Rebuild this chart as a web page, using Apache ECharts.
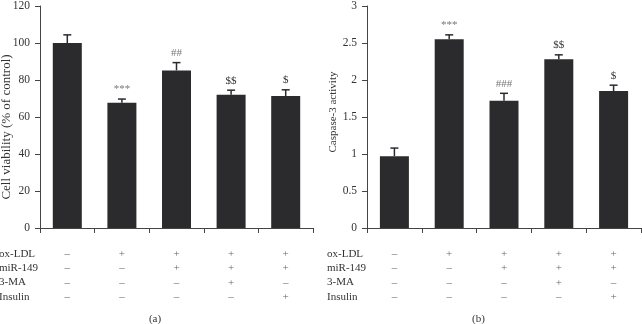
<!DOCTYPE html>
<html>
<head>
<meta charset="utf-8">
<script src="https://cdn.jsdelivr.net/npm/echarts@6/dist/echarts.min.js"></script>
<style>html,body{margin:0;padding:0;background:#fff}#c{width:642px;height:324px}</style>
</head>
<body>
<div id="c"></div>
<script>
// ---- data ----
const rowNames = ['ox-LDL', 'miR-149', '3-MA', 'Insulin'];
const oxLDL   = ['–', '+', '+', '+', '+'];
const miR149  = ['–', '–', '+', '+', '+'];
const threeMA = ['–', '–', '–', '+', '–'];
const insulin = ['–', '–', '–', '–', '+'];
const groups = ['G1', 'G2', 'G3', 'G4', 'G5'];

const viability     = [100, 67.7, 85.2, 72.0, 71.3];
const viabilityErr  = [4.4, 2.0, 4.2, 2.5, 3.4];
const viabilityMark = ['', '***', '##', '$$', '$'];
const viabilityTicks = [0, 120, 20];

const caspase     = [0.97, 2.55, 1.72, 2.28, 1.85];
const caspaseErr  = [0.11, 0.06, 0.10, 0.06, 0.08];
const caspaseMark = ['', '***', '###', '$$', '$'];
const caspaseTicks = [0, 3, 0.5];

const yTitles = ['Cell viability (% of control)', 'Caspase-3 activity'];
const panelTags = ['(a)', '(b)'];

// ---- chart ----
const FONT = "'Liberation Serif', 'Times New Roman', serif";
const TXT = '#333';
const AX = '#444';
const BAR = '#2b2b2e';
const rows = [oxLDL, miR149, threeMA, insulin];

function catLabel(idx) {
  return rows.map(r => r[idx]).join('\n');
}

function xAxisCfg(gi) {
  return {
    type: 'category', gridIndex: gi, data: groups,
    axisLine: { lineStyle: { color: AX, width: 1 } },
    axisTick: { show: true, length: 5, lineStyle: { color: AX } },
    axisLabel: {
      interval: 0, margin: 19, color: '#666', fontFamily: FONT, fontSize: 11, lineHeight: 14.3,
      formatter: (v, i) => catLabel(i)
    }
  };
}
function yAxisCfg(gi, t) {
  return {
    type: 'value', gridIndex: gi, min: t[0], max: t[1], interval: t[2],
    splitLine: { show: false },
    axisLine: { show: true, lineStyle: { color: AX, width: 1 } },
    axisTick: { show: true, length: 5, lineStyle: { color: AX } },
    axisLabel: { margin: 10, color: TXT, fontFamily: FONT, fontSize: 11.5 }
  };
}
function errSeries(gi, vals, errs, marks) {
  return {
    type: 'custom', xAxisIndex: gi, yAxisIndex: gi, z: 10,
    data: vals.map((v, i) => [i, v, errs[i]]),
    renderItem: (params, api) => {
      const i = api.value(0), v = api.value(1), e = api.value(2);
      const b = api.coord([i, v]);
      const t = api.coord([i, v + e]);
      const half = 4;
      const m = marks[i];
      const light = /[*#]/.test(m);
      return {
        type: 'group',
        children: [
          { type: 'line', shape: { x1: b[0], y1: b[1], x2: t[0], y2: t[1] }, style: { stroke: BAR, lineWidth: 1.5 } },
          { type: 'line', shape: { x1: t[0] - half, y1: t[1], x2: t[0] + half, y2: t[1] }, style: { stroke: BAR, lineWidth: 1.5 } },
          { type: 'text', x: t[0], y: t[1] - 4, style: { text: m, align: 'center', verticalAlign: 'bottom', fill: light ? '#777' : '#333', font: '11px ' + FONT } }
        ]
      };
    }
  };
}

const graphic = [];
const rowX = [-1, 327];
rowX.forEach(x => {
  rowNames.forEach((n, k) => {
    graphic.push({ type: 'text', x: x, y: 254 + k * 14.3, style: { text: n, fill: TXT, font: '11px ' + FONT, verticalAlign: 'middle', align: 'left' } });
  });
});
graphic.push({ type: 'text', x: 7, y: 127, rotation: Math.PI / 2, style: { text: yTitles[0], fill: TXT, font: '13px ' + FONT, align: 'center', verticalAlign: 'middle' } });
graphic.push({ type: 'text', x: 333, y: 112, rotation: Math.PI / 2, style: { text: yTitles[1], fill: TXT, font: '11px ' + FONT, align: 'center', verticalAlign: 'middle' } });
graphic.push({ type: 'text', x: 155, y: 319, style: { text: panelTags[0], fill: TXT, font: '11px ' + FONT, align: 'center', verticalAlign: 'middle' } });
graphic.push({ type: 'text', x: 478.5, y: 319, style: { text: panelTags[1], fill: TXT, font: '11px ' + FONT, align: 'center', verticalAlign: 'middle' } });

const option = {
  animation: false,
  backgroundColor: '#fff',
  grid: [
    { left: 40, right: 329, top: 3, bottom: 96 },
    { left: 367, right: 1, top: 3, bottom: 96 }
  ],
  xAxis: [xAxisCfg(0), xAxisCfg(1)],
  yAxis: [yAxisCfg(0, viabilityTicks), yAxisCfg(1, caspaseTicks)],
  series: [
    { type: 'bar', xAxisIndex: 0, yAxisIndex: 0, data: viability, barWidth: 29, itemStyle: { color: BAR } },
    errSeries(0, viability, viabilityErr, viabilityMark),
    { type: 'bar', xAxisIndex: 1, yAxisIndex: 1, data: caspase, barWidth: 29, itemStyle: { color: BAR } },
    errSeries(1, caspase, caspaseErr, caspaseMark)
  ],
  graphic: graphic
};
const chart = echarts.init(document.getElementById('c'), null, { renderer: 'canvas' });
chart.setOption(option);
</script>
</body>
</html>
